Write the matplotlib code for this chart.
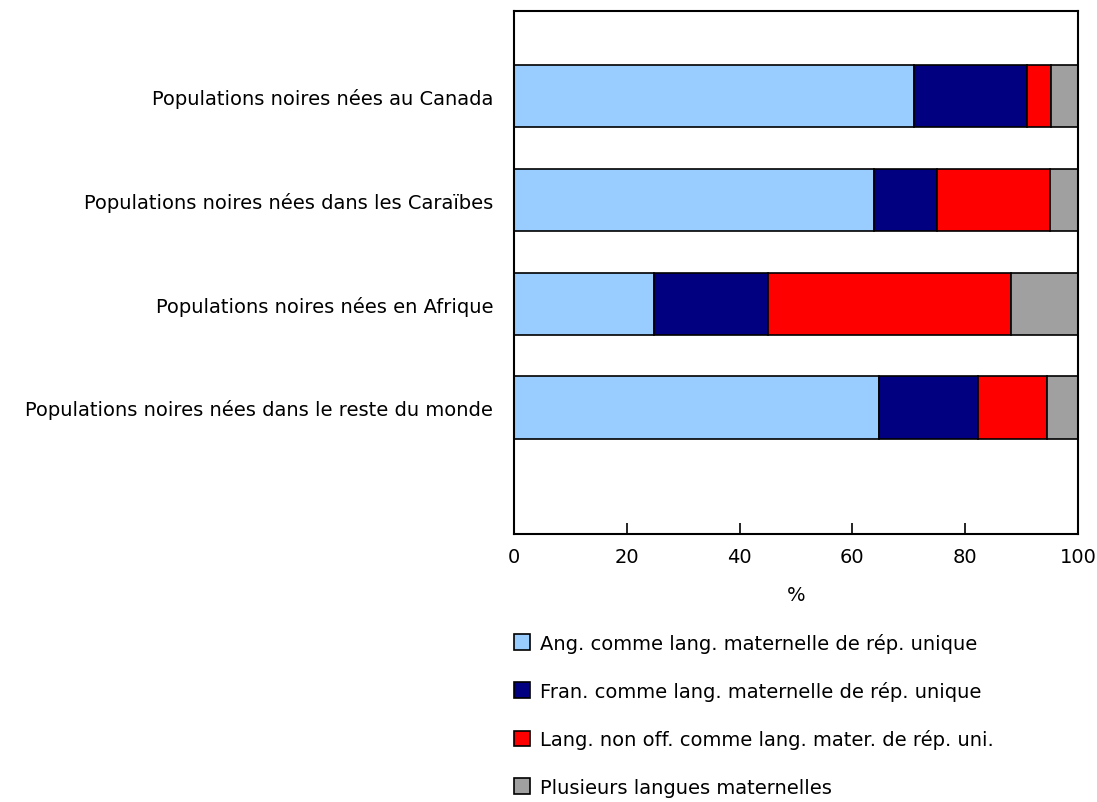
import matplotlib.pyplot as plt
import numpy as np

categories = ["Populations noires nées au Canada",
              "Populations noires nées dans les Caraïbes",
              "Populations noires nées en Afrique",
              "Populations noires nées dans le reste du monde"]
series_names = ["Ang. comme lang. maternelle de rép. unique",
                "Fran. comme lang. maternelle de rép. unique",
                "Lang. non off. comme lang. mater. de rép. uni.",
                "Plusieurs langues maternelles"]
anglais = [70.9, 63.9, 24.8, 64.7]
francais = [20.1, 11.1, 20.2, 17.5]
non_off = [4.2, 20.0, 43.1, 12.3]
plusieurs = [4.8, 5.0, 11.9, 5.5]
colors = ["#99CCFF", "#000080", "#FF0000", "#A0A0A0"]
xticks = [0, 20, 40, 60, 80, 100]

plt.rcParams['font.family'] = ['DejaVu Sans']
fs = 14

fig = plt.figure(figsize=(10.97, 8.03), dpi=100)
ax = fig.add_axes([0.4686, 0.3337, 0.5141, 0.6513])

y = np.arange(len(categories))
left = np.zeros(len(categories))
for vals, name, c in zip([anglais, francais, non_off, plusieurs], series_names, colors):
    ax.barh(y, vals, left=left, height=0.6, color=c, edgecolor="black",
            linewidth=1.2, label=name)
    left += np.array(vals)

ax.set_xlim(0, 100)
ax.set_ylim(4.22, -0.82)
ax.set_yticks(y)
ax.set_yticklabels(categories, fontsize=fs)
ax.tick_params(axis='y', length=0, pad=15)
ax.set_xticks(xticks)
ax.tick_params(axis='x', direction='in', length=8, width=1.2, labelsize=fs, pad=9)
ax.set_xlabel("%", fontsize=fs, labelpad=14)
for s in ax.spines.values():
    s.set_linewidth(1.5)
    s.set_color("black")

fig.legend(loc='upper left', bbox_to_anchor=(0.4612, 0.2207), frameon=False,
           fontsize=fs, handlelength=0.85, handleheight=0.85, handletextpad=0.5,
           labelspacing=1.46, borderaxespad=0)

fig.savefig("out.png", dpi=100)
